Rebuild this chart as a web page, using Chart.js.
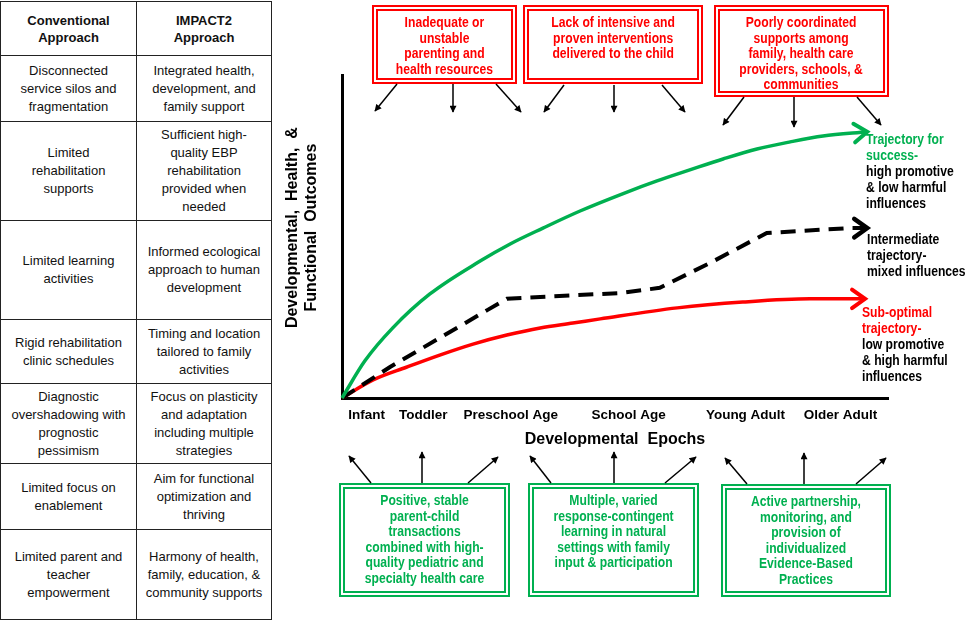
<!DOCTYPE html>
<html>
<head>
<meta charset="utf-8">
<script src="https://cdn.jsdelivr.net/npm/chart.js@4.4.1/dist/chart.umd.min.js"></script>
<style>
  body { margin: 0; width: 974px; height: 626px; position: relative; background: #fff; overflow: hidden; font-family: "Liberation Sans", Arial, sans-serif; }
  table.cmp { position: absolute; left: 0; top: 1px; border-collapse: collapse; table-layout: fixed; width: 271px; font-size: 13px; line-height: 18px; color: #111; }
  table.cmp th, table.cmp td { border: 1px solid #222; text-align: center; vertical-align: middle; padding: 0 3px; }
  table.cmp th { font-weight: bold; line-height: 17px; }
  .narrow { font-family: "Liberation Sans Narrow", "Arial Narrow", "Liberation Sans", sans-serif; font-weight: bold; }
  .box { position: absolute; box-sizing: border-box; border: 6px double; text-align: center; font-size: 15px; line-height: 15.5px; padding-top: 3px; }
  .box .sq { width: 124%; margin-left: -12%; transform: scaleX(0.81); transform-origin: 50% 0; }
  .box.red { border-color: #ff0000; color: #ff0000; }
  .box.green { border-color: #00b050; color: #00b050; }
  .side { position: absolute; font-size: 15px; line-height: 16px; color: #000; white-space: nowrap; transform: scaleX(0.81); transform-origin: 0 0; }
  .g { color: #00b050; }
  .r { color: #ff0000; }
  #chartWrap { position: absolute; left: 280px; top: 0; width: 694px; height: 626px; }
  svg.arrows { position: absolute; left: 0; top: 0; pointer-events: none; }
</style>
</head>
<body>

<table class="cmp">
  <colgroup><col style="width:136px"><col style="width:135px"></colgroup>
  <tr style="height:54px"><th>Conventional<br>Approach</th><th>IMPACT2<br>Approach</th></tr>
  <tr style="height:66px"><td>Disconnected<br>service silos and<br>fragmentation</td><td>Integrated health,<br>development, and<br>family support</td></tr>
  <tr style="height:99px"><td>Limited<br>rehabilitation<br>supports</td><td>Sufficient high-<br>quality EBP<br>rehabilitation<br>provided when<br>needed</td></tr>
  <tr style="height:99px"><td>Limited learning<br>activities</td><td>Informed ecological<br>approach to human<br>development</td></tr>
  <tr style="height:64px"><td>Rigid rehabilitation<br>clinic schedules</td><td>Timing and location<br>tailored to family<br>activities</td></tr>
  <tr style="height:80px"><td>Diagnostic<br>overshadowing with<br>prognostic<br>pessimism</td><td>Focus on plasticity<br>and adaptation<br>including multiple<br>strategies</td></tr>
  <tr style="height:66px"><td>Limited focus on<br>enablement</td><td>Aim for functional<br>optimization and<br>thriving</td></tr>
  <tr style="height:90px"><td>Limited parent and<br>teacher<br>empowerment</td><td>Harmony of health,<br>family, education, &amp;<br>community supports</td></tr>
</table>

<div id="chartWrap"><canvas id="traj" width="694" height="626"></canvas></div>

<div class="box red narrow" style="left:372px;top:5px;width:145px;height:79px"><div class="sq">Inadequate or<br>unstable<br>parenting and<br>health resources</div></div>
<div class="box red narrow" style="left:523px;top:5px;width:180px;height:79px"><div class="sq">Lack of intensive and<br>proven interventions<br>delivered to the child</div></div>
<div class="box red narrow" style="left:714px;top:5px;width:175px;height:92px"><div class="sq">Poorly coordinated<br>supports among<br>family, health care<br>providers, schools, &amp;<br>communities</div></div>

<div class="box green narrow" style="left:339px;top:483px;width:171px;height:114px"><div class="sq">Positive, stable<br>parent-child<br>transactions<br>combined with high-<br>quality pediatric and<br>specialty health care</div></div>
<div class="box green narrow" style="left:528px;top:483px;width:171px;height:114px"><div class="sq">Multiple, varied<br>response-contingent<br>learning in natural<br>settings with family<br>input &amp; participation</div></div>
<div class="box green narrow" style="left:721px;top:484px;width:170px;height:113px"><div class="sq">Active partnership,<br>monitoring, and<br>provision of<br>individualized<br>Evidence-Based<br>Practices</div></div>

<div class="side narrow" style="left:866px;top:131px"><span class="g">Trajectory for<br>success-</span><br>high promotive<br>&amp; low harmful<br>influences</div>
<div class="side narrow" style="left:867px;top:231px">Intermediate<br>trajectory-<br>mixed influences</div>
<div class="side narrow" style="left:862px;top:304px"><span class="r">Sub-optimal<br>trajectory-</span><br>low promotive<br>&amp; high harmful<br>influences</div>

<svg class="arrows" width="974" height="626">
  <defs>
    <marker id="ah" viewBox="0 0 10 10" refX="9" refY="5" markerWidth="8" markerHeight="7" orient="auto" markerUnits="userSpaceOnUse">
      <path d="M0,0 L10,5 L0,10 z" fill="#000"/>
    </marker>
  </defs>
  <g stroke="#000" stroke-width="1.5" marker-end="url(#ah)">
    <line x1="397" y1="84" x2="375" y2="111"/>
    <line x1="453" y1="84" x2="453" y2="112"/>
    <line x1="496" y1="84" x2="521" y2="112"/>
    <line x1="564" y1="85" x2="544" y2="112"/>
    <line x1="614" y1="85" x2="614" y2="112"/>
    <line x1="662" y1="85" x2="685" y2="112"/>
    <line x1="744" y1="97" x2="723" y2="125"/>
    <line x1="794" y1="97" x2="794" y2="127"/>
    <line x1="857" y1="97" x2="881" y2="125"/>
    <line x1="371" y1="483" x2="349" y2="456"/>
    <line x1="422" y1="483" x2="422" y2="452"/>
    <line x1="468" y1="483" x2="498" y2="457"/>
    <line x1="551" y1="483" x2="530" y2="456"/>
    <line x1="614" y1="483" x2="614" y2="452"/>
    <line x1="665" y1="483" x2="696" y2="457"/>
    <line x1="747" y1="484" x2="725" y2="458"/>
    <line x1="804" y1="484" x2="804" y2="453"/>
    <line x1="856" y1="484" x2="886" y2="458"/>
  </g>
</svg>

<script>
// x axis: developmental epochs, positions (0 = origin, 100 = axis end)
const epochLabels = ["Infant", "Toddler", "Preschool Age", "School Age", "Young Adult", "Older Adult"];
const epochTicks = [4.5, 14.9, 30.9, 52.5, 73.9, 91.3];

// trajectory for success (green)
const successX = [0, 4.2, 9.3, 16.1, 25.3, 30.8, 36.8, 43.6, 51.5, 57.7, 63.7, 69.8, 76.0, 82.1, 88.1, 96.2];
const successY = [0, 11.5, 21.7, 32.2, 42.4, 47.7, 52.6, 57.9, 63.3, 67.2, 70.6, 74.0, 77.1, 79.3, 81.1, 82.4];

// intermediate trajectory (black dashed)
const mixedX = [0, 8.8, 17.9, 26.6, 30.2, 36.3, 50.9, 58.2, 67.4, 77.8, 93, 96.2];
const mixedY = [0, 9.6, 18.6, 27.2, 30.7, 31.3, 32.5, 34.1, 41.8, 51.1, 52.6, 52.6];

// sub-optimal trajectory (red)
const subX = [0, 5.7, 11.9, 17.9, 24, 30.2, 36.3, 42.3, 47.3, 61.4, 73.4, 85.7, 95.8];
const subY = [0, 5.6, 9.6, 13.3, 16.7, 19.5, 21.7, 23.2, 24.5, 27.9, 29.7, 30.7, 30.7];

const toPts = (xs, ys) => xs.map((x, i) => ({ x, y: ys[i] }));

// open "V" arrow heads at the end of every line
const arrowHeads = {
  id: "arrowHeads",
  afterDatasetsDraw(chart) {
    const ctx = chart.ctx;
    chart.data.datasets.forEach((ds, i) => {
      const pts = chart.getDatasetMeta(i).data;
      const end = pts[pts.length - 1], prev = pts[pts.length - 2];
      let fx = prev.x, fy = prev.y;
      if (end.cp1x !== undefined && Math.abs(end.cp1x - end.x) > 0.5) { fx = end.cp1x; fy = end.cp1y; }
      const a = Math.atan2(end.y - fy, end.x - fx);
      const len = ds.headLen, spread = 0.62;
      ctx.save();
      ctx.strokeStyle = ds.borderColor;
      ctx.lineWidth = ds.borderWidth + 0.5;
      ctx.lineCap = "round";
      ctx.setLineDash([]);
      ctx.beginPath();
      ctx.moveTo(end.x - len * Math.cos(a - spread), end.y - len * Math.sin(a - spread));
      ctx.lineTo(end.x, end.y);
      ctx.lineTo(end.x - len * Math.cos(a + spread), end.y - len * Math.sin(a + spread));
      ctx.stroke();
      ctx.restore();
    });
  }
};

new Chart(document.getElementById("traj").getContext("2d"), {
  type: "line",
  data: {
    datasets: [
      { label: "Trajectory for success", data: toPts(successX, successY), borderColor: "#00b050", borderWidth: 3.5, cubicInterpolationMode: "monotone", pointRadius: 0, fill: false, clip: false, headLen: 16 },
      { label: "Intermediate trajectory", data: toPts(mixedX, mixedY), borderColor: "#000", borderWidth: 4, borderDash: [15, 9], tension: 0, pointRadius: 0, fill: false, clip: false, headLen: 16 },
      { label: "Sub-optimal trajectory", data: toPts(subX, subY), borderColor: "#ff0000", borderWidth: 3.5, cubicInterpolationMode: "monotone", pointRadius: 0, fill: false, clip: false, headLen: 16 },
    ],
  },
  options: {
    responsive: false,
    animation: false,
    layout: { padding: { left: 0, top: 75, right: 86, bottom: 177 } },
    plugins: { legend: { display: false }, tooltip: { enabled: false } },
    scales: {
      x: {
        type: "linear", min: 0, max: 100,
        grid: { display: false, drawTicks: false },
        border: { display: true, color: "#000", width: 3 },
        afterBuildTicks: (s) => { s.ticks = epochTicks.map((v) => ({ value: v })); },
        afterFit: (s) => { s.height = 51; },
        ticks: { autoSkip: false, maxRotation: 0, padding: 9, color: "#000", font: { family: "Liberation Sans", size: 13.5, weight: "bold" }, callback: (v, i) => epochLabels[i] },
        title: { display: true, text: "Developmental  Epochs", color: "#000", padding: 0, font: { family: "Liberation Sans", size: 16, weight: "bold", lineHeight: 1.2 } },
      },
      y: {
        min: 0, max: 100,
        grid: { display: false, drawTicks: false },
        border: { display: true, color: "#000", width: 3 },
        ticks: { display: false },
        afterFit: (s) => { s.width = 62; },
        // leading spaces lift the centred title a little, as in the original
        title: { display: true, text: ["    Developmental,  Health,  &", "    Functional  Outcomes"], color: "#000", padding: { top: 3, bottom: 0 }, font: { family: "Liberation Sans", size: 16, weight: "bold", lineHeight: 1.2 } },
      },
    },
  },
  plugins: [arrowHeads],
});
</script>
</body>
</html>
